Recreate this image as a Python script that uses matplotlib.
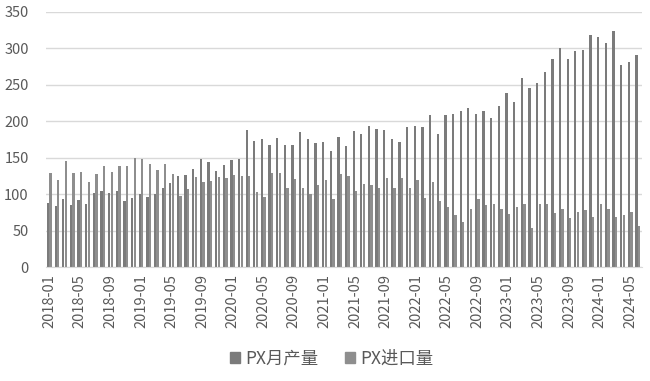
import matplotlib
matplotlib.use("Agg")
import matplotlib.pyplot as plt
from matplotlib.patches import Patch
import numpy as np
import pandas as pd

plt.rcParams['font.family'] = ['Noto Sans CJK SC', 'DejaVu Sans']

# monthly data, 2018-01 .. 2024-06
months = pd.date_range("2018-01-01", periods=78, freq="MS").strftime("%Y-%m").tolist()

px_output = [88, 84, 93, 85, 92, 86, 102, 105, 102, 105, 91, 95,
             100, 96, 100, 108, 115, 125, 126, 134, 148, 144, 132, 140,
             147, 148, 188, 173, 176, 167, 177, 167, 167, 185, 176, 170,
             172, 159, 178, 166, 187, 183, 194, 189, 188, 175, 172, 192,
             194, 192, 208, 183, 208, 210, 214, 218, 210, 214, 204, 221,
             238, 226, 259, 246, 253, 267, 285, 300, 285, 296, 298, 318,
             315, 307, 324, 277, 281, 291]

px_import = [129, 119, 145, 129, 130, 116, 128, 139, 130, 139, 139, 149,
             148, 142, 133, 141, 128, 97, 107, 123, 116, 118, 124, 122,
             126, 125, 125, 103, 96, 129, 129, 109, 121, 109, 100, 112,
             120, 94, 128, 125, 104, 114, 112, 109, 122, 109, 122, 108,
             120, 95, 116, 91, 82, 71, 62, 79, 93, 85, 86, 79,
             73, 82, 86, 53, 87, 86, 74, 80, 67, 75, 78, 68,
             87, 80, 68, 72, 75, 56]

series_names = ["PX月产量", "PX进口量"]
colors = ["#7b7b7b", "#8e8e8e"]
text_color = "#595959"

fig = plt.figure(figsize=(6.5, 3.81), dpi=100)
ax = fig.add_axes([0.07, 0.299, 0.917, 0.67])

x = np.arange(len(months))
w = 0.3
ax.bar(x - 0.17, px_output, width=w, color=colors[0], linewidth=0)
ax.bar(x + 0.17, px_import, width=w, color=colors[1], linewidth=0)

ax.set_xlim(-0.5, len(months) - 0.5)
ax.set_ylim(0, 350)
ax.set_yticks(range(0, 351, 50))
ax.yaxis.grid(True, color="#d9d9d9", linewidth=1)
ax.set_axisbelow(True)

ax.set_xticks(x[::4])
ax.set_xticklabels(months[::4], rotation=90)
ax.tick_params(axis="both", length=0, labelsize=10.5, colors=text_color)
ax.tick_params(axis="x", pad=5)
ax.tick_params(axis="y", pad=12)

for s in ["top", "right", "left"]:
    ax.spines[s].set_visible(False)
ax.spines["bottom"].set_color("#d9d9d9")

handles = [Patch(color=c) for c in colors]
fig.legend(handles, series_names, loc="center", bbox_to_anchor=(0.51, 0.058),
           ncol=2, frameon=False, fontsize=12.5, handlelength=0.6, handleheight=0.6,
           handletextpad=0.3, columnspacing=1.5, labelcolor=text_color)

fig.savefig("out.png", dpi=100)
